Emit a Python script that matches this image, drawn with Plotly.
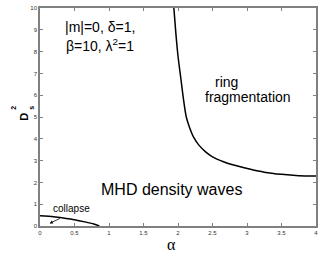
import plotly.graph_objects as go

# Upper branch: ring fragmentation boundary
alpha_up = [1.94, 1.97, 2.00, 2.04, 2.08, 2.12, 2.17, 2.23, 2.30, 2.40, 2.50, 2.66, 2.85, 3.05, 3.25, 3.50, 3.75, 4.0]
d2_up = [10.0, 8.8, 7.8, 6.8, 5.8, 5.0, 4.5, 4.05, 3.72, 3.40, 3.17, 2.95, 2.76, 2.60, 2.47, 2.37, 2.31, 2.29]

# Lower branch: collapse boundary
alpha_low = [0.0, 0.2, 0.36, 0.5, 0.65, 0.78, 0.86]
d2_low = [0.47, 0.43, 0.36, 0.29, 0.19, 0.09, 0.0]

x_ticks = [0, 0.5, 1, 1.5, 2, 2.5, 3, 3.5, 4]
x_tick_labels = ["0", "0.5", "1", "1.5", "2", "2.5", "3", "3.5", "4"]
y_ticks = list(range(0, 11))

FONT = "Liberation Sans, Arial, Helvetica, sans-serif"

fig = go.Figure()
fig.add_trace(go.Scatter(x=alpha_up, y=d2_up, mode="lines",
                         line=dict(color="black", width=1.5, shape="spline", smoothing=0.8), showlegend=False))
fig.add_trace(go.Scatter(x=alpha_low, y=d2_low, mode="lines",
                         line=dict(color="black", width=1.5, shape="spline", smoothing=0.8), showlegend=False))

axis_common = dict(showline=True, linecolor="#808080", linewidth=1.5, mirror="ticks",
                   ticks="inside", ticklen=3, tickcolor="#808080", showgrid=False, zeroline=False,
                   ticklabeloverflow="allow",
                   tickfont=dict(family=FONT, size=6, color="#333333"))

fig.update_xaxes(range=[0, 4], tickvals=x_ticks, ticktext=x_tick_labels, **axis_common)
fig.update_yaxes(range=[0, 10], tickvals=y_ticks, **axis_common)

anns = [
    dict(x=0.863, y=9.14, text="|m|=0, δ=1,", size=14),
    dict(x=0.863, y=8.32, text="β=10, λ<sup>2</sup>=1", size=14),
    dict(x=2.71, y=6.62, text="ring", size=14),
    dict(x=3.02, y=5.92, text="fragmentation", size=14),
    dict(x=1.906, y=1.68, text="MHD density waves", size=16),
    dict(x=0.46, y=0.8, text="collapse", size=10),
]
for a in anns:
    fig.add_annotation(x=a["x"], y=a["y"], xref="x", yref="y", text=a["text"], showarrow=False,
                       font=dict(family=FONT, size=a["size"], color="black"))

# arrow for collapse
fig.add_annotation(x=0.14, y=0.12, ax=0.31, ay=0.38, xref="x", yref="y", axref="x", ayref="y",
                   text="", showarrow=True, arrowhead=2, arrowsize=0.8, arrowwidth=0.8, arrowcolor="black")

# axis titles
fig.add_annotation(x=0.475, y=-0.085, xref="paper", yref="paper", text="α", showarrow=False,
                   yanchor="middle", font=dict(family="Liberation Serif, serif", size=16, color="black"))
fig.add_annotation(x=-0.09, y=0.502, xref="paper", yref="paper", text="<b>D</b>", textangle=-90,
                   showarrow=False, font=dict(family=FONT, size=11, color="black"))
fig.add_annotation(x=-0.119, y=0.541, xref="paper", yref="paper", text="<b>2</b>", textangle=-90,
                   showarrow=False, font=dict(family=FONT, size=7, color="black"))
fig.add_annotation(x=-0.052, y=0.543, xref="paper", yref="paper", text="<b>s</b>", textangle=-90,
                   showarrow=False, font=dict(family=FONT, size=7, color="black"))

fig.update_layout(width=323, height=255, margin=dict(l=40, r=5, t=6, b=29),
                  plot_bgcolor="white", paper_bgcolor="white")

fig.write_html("out.html", config={"displayModeBar": False},
               post_script="document.body.style.margin='0';")
